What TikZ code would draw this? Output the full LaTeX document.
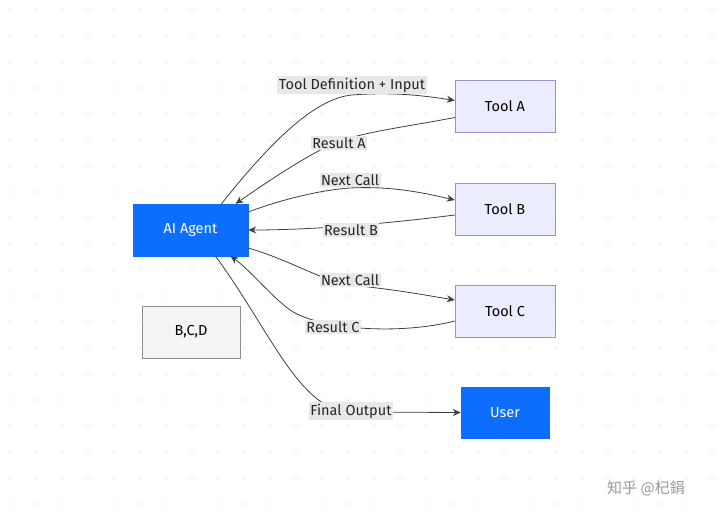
\documentclass[tikz,border=0pt]{standalone}
\usepackage{fontspec}
\setmainfont{Fira Sans}
\newfontfamily\cjk{Noto Sans CJK SC}
\usetikzlibrary{arrows.meta}
\definecolor{agentblue}{HTML}{0D6EFD}
\definecolor{toolfill}{HTML}{ECECFF}
\definecolor{toolline}{HTML}{9C8FD0}
\definecolor{lblbg}{HTML}{E8E8E8}
\begin{document}
\begin{tikzpicture}[x=1pt,y=-1pt,
  fs/.style={font=\fontsize{14.5}{17}\selectfont},
  blue/.style={draw=agentblue,fill=agentblue,text=white,minimum width=115pt,minimum height=52pt,inner sep=0pt,fs},
  tool/.style={draw=toolline,fill=toolfill,minimum width=100pt,minimum height=52pt,inner sep=0pt,fs},
  lbl/.style={fill=lblbg,inner sep=1.5pt,fs,text=black!85},
  arr/.style={draw=black!75,line width=0.8pt,-{Stealth[length=8pt,width=7pt]}}]
\useasboundingbox (0,0) rectangle (720,518);
\fill[white] (0,0) rectangle (720,518);
\foreach \i in {0,...,27} \foreach \j in {0,...,20}
  \fill[black!12] (10+26*\i,10+26*\j) circle (0.9pt);
\node[blue] (agent) at (190.5,230) {AI Agent};
\node[tool] (ta) at (505,106.5) {Tool A};
\node[tool] (tb) at (505,209) {Tool B};
\node[tool] (tc) at (505,311) {Tool C};
\node[draw=black!45,fill=black!4,minimum width=98pt,minimum height=52pt,inner sep=0pt,fs] (bcd) at (191,332) {B,C,D};
\node[blue,minimum width=88pt,minimum height=51pt] (user) at (505,412.5) {User};
\draw[arr] ([xshift=31pt]agent.north) .. controls (280,130) and (320,98) .. (352,95) .. controls (390,92) and (420,95) .. ([yshift=6pt]ta.west);
\draw[arr] ([yshift=-11pt]ta.west) .. controls (400,128) and (360,132) .. (330,145) .. controls (300,160) and (270,180) .. ([xshift=45pt]agent.north);
\draw[arr] ([yshift=18pt]agent.east) .. controls (280,200) and (320,190) .. (350,188) .. controls (390,186) and (420,192) .. ([yshift=9pt]tb.west);
\draw[arr] ([yshift=-6pt]tb.west) .. controls (400,222) and (320,230) .. (agent.east);
\draw[arr] ([yshift=-18pt]agent.east) .. controls (290,260) and (320,280) .. (350,285) .. controls (400,290) and (430,296) .. ([yshift=11pt]tc.west);
\draw[arr] ([yshift=-10pt]tc.west) .. controls (400,335) and (320,330) .. (290,310) .. controls (270,295) and (250,270) .. ([xshift=40pt]agent.south);
\draw[arr] ([xshift=25pt]agent.south) .. controls (270,330) and (300,412) .. (351,412) -- (user.west);
\node[lbl] (l1) at (352,85) {Tool Definition + Input};
\node[lbl] (l2) at (339,143) {Result A};
\node[lbl] (l3) at (350,180) {Next Call};
\node[lbl] (l4) at (351,230) {Result B};
\node[lbl] (l5) at (350,280) {Next Call};
\node[lbl] (l6) at (333,327) {Result C};
\node[lbl] (l7) at (351,411) {Final Output};
\node[text=black!40,font=\cjk\fontsize{15}{17}\selectfont] (wm) at (646,488) {知乎 @杞鋗};
\end{tikzpicture}
\end{document}
